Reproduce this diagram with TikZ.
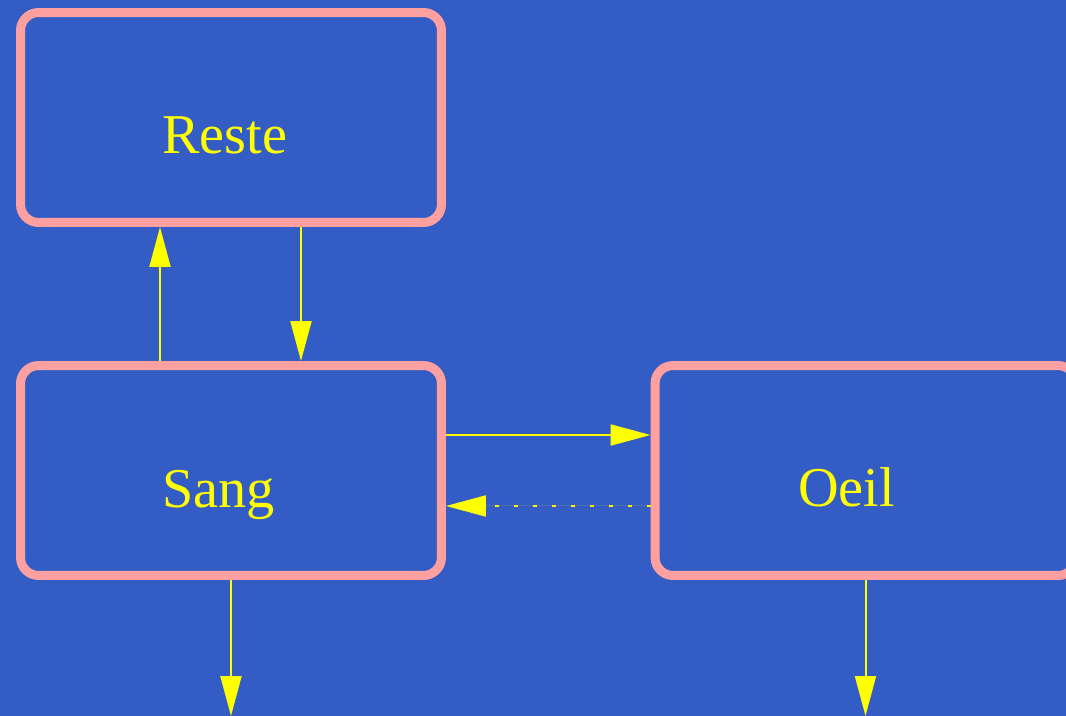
\documentclass[tikz,border=0pt]{standalone}
\usepackage{fontspec}
\setmainfont{Liberation Serif}
\usetikzlibrary{arrows.meta}
\definecolor{bgblue}{RGB}{51,93,196}
\definecolor{boxpink}{RGB}{255,160,160}
\definecolor{txtyellow}{RGB}{255,255,0}
\tikzset{
  box/.style={draw=boxpink, line width=0.18cm, rounded corners=0.36cm,
    rectangle, minimum width=8.42cm, minimum height=4.2cm, inner sep=0pt},
  boxtext/.style={anchor=base west, text=txtyellow, inner sep=0pt,
    font=\fontsize{32}{38}\selectfont},
  arr/.style={draw=txtyellow, line width=0.04cm,
    -{Triangle[length=0.8cm,width=0.42cm]}, fill=txtyellow},
  dotline/.style={dash pattern=on 0.08cm off 0.3cm}
}
\begin{document}
\begin{tikzpicture}[x=0.02cm,y=-0.02cm]
\fill[bgblue] (0,0) rectangle (1066,716);
\useasboundingbox (0,0) rectangle (1066,716);
\clip (0,0) rectangle (1066,716);
\node[box] (reste) at (231,117.5) {};
\node[box] (sang) at (231,470.5) {};
\node[box] (oeil) at (865.5,470.5) {};
\node[boxtext] (resteT) at (162,154) {Reste};
\node[boxtext] (sangT) at (162,507) {Sang};
\node[boxtext] (oeilT) at (798,506) {Oeil};
\coordinate (sangout) at (231,716);
\coordinate (oeilout) at (865.5,716);
\draw[arr] ([xshift=-1.42cm]sang.north) -- ([xshift=-1.42cm]reste.south);
\draw[arr] ([xshift=1.4cm]reste.south) -- ([xshift=1.4cm]sang.north);
\draw[arr] ([yshift=0.71cm]sang.east) -- ([yshift=0.71cm]oeil.west);
\draw[arr,dotline] ([yshift=-0.71cm]oeil.west) -- ([yshift=-0.71cm]sang.east);
\draw[arr] (sang.south) -- (sangout);
\draw[arr] (oeil.south) -- (oeilout);
\end{tikzpicture}
\end{document}
